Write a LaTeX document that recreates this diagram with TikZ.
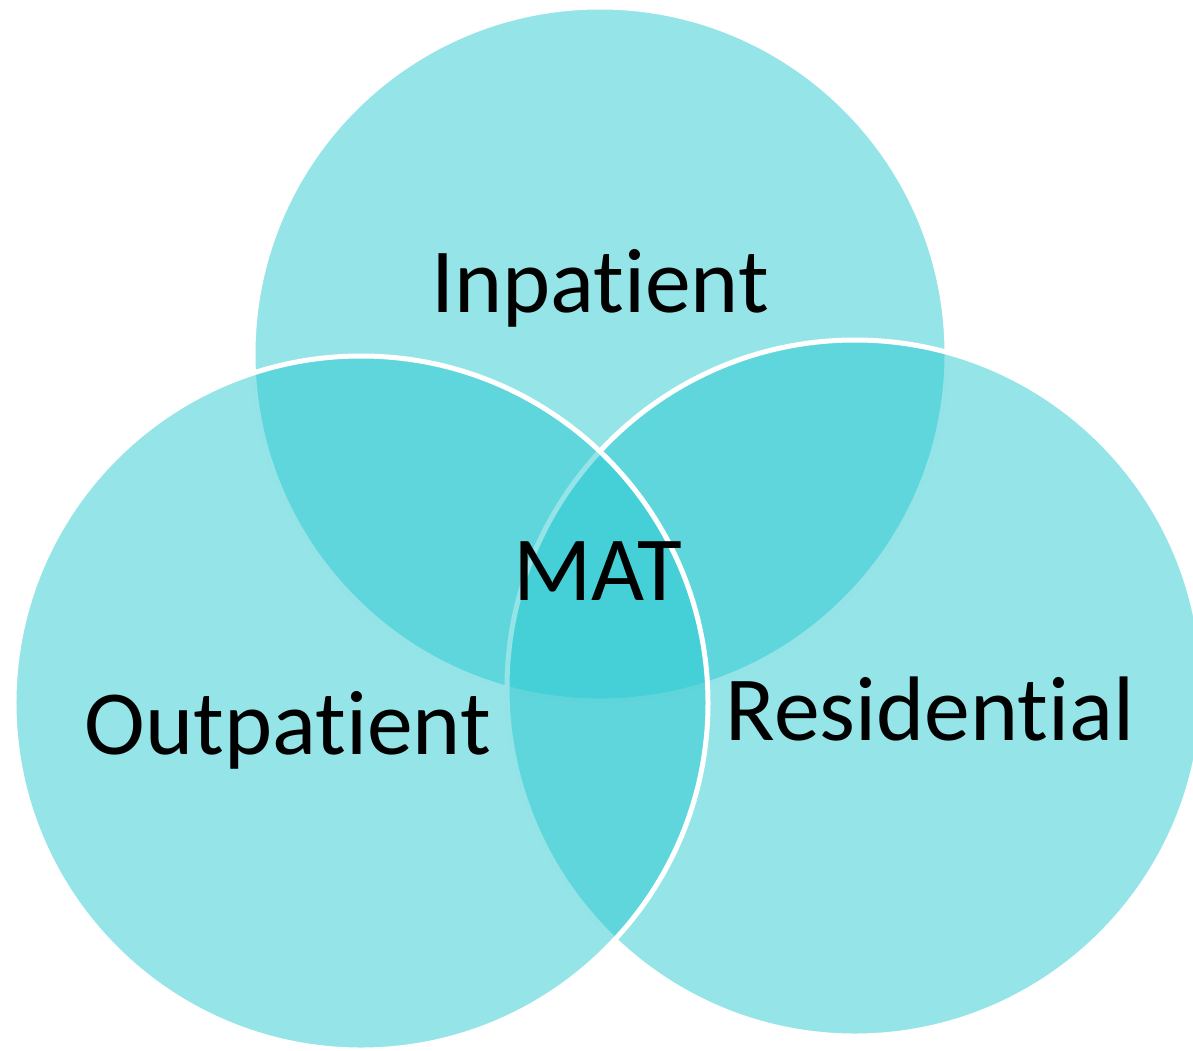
\documentclass[tikz,border=0pt]{standalone}
\usepackage{fontspec}
\setmainfont[Ligatures={NoCommon}]{Carlito}
\definecolor{venncol}{RGB}{43,201,209}
\begin{document}
\begin{tikzpicture}[x=1bp,y=-1bp,
  venn/.style={circle, fill=venncol, fill opacity=0.5, draw=white, draw opacity=1, line width=5bp, inner sep=0pt, outer sep=0pt},
  lbl/.style={anchor=base, text=black, font=\fontsize{92}{100}\selectfont, inner sep=0pt}]
\useasboundingbox (0,0) rectangle (1193,1051);
\clip (0,0) rectangle (1193,1051);
\node[venn, minimum size=694bp] (top) at (600,354) {};
\node[venn, minimum size=696bp] (right) at (855,688) {};
\node[venn, minimum size=694bp] (left) at (361,703) {};
\node[lbl] (inp) at (600,312) {Inpatient};
\node[lbl] (mat) at (598,600) {MAT};
\node[lbl] (outp) at (288,754) {Outpatient};
\node[lbl] (res) at (930,740) {Residential};
\end{tikzpicture}
\end{document}
